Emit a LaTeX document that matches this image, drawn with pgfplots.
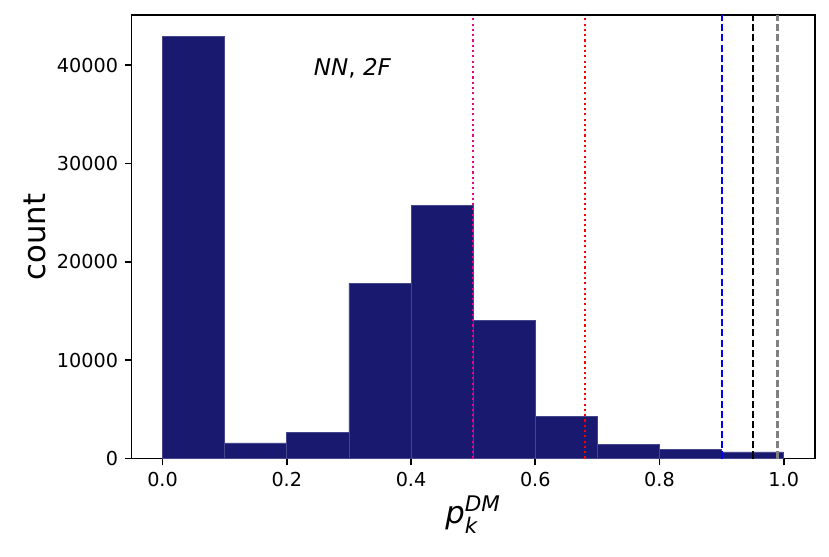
\documentclass[border=0pt]{standalone}
\usepackage{amsmath}
\usepackage{fontspec}
\setmainfont{DejaVu Sans}
\usepackage{pgfplots}
\pgfplotsset{compat=1.18}

\definecolor{midnight}{RGB}{25,25,112}
\definecolor{baredge}{RGB}{70,70,140}

\begin{document}
\begin{tikzpicture}
\begin{axis}[
    scale only axis,
    width=356pt, height=231pt,
    xmin=-0.05, xmax=1.05,
    ymin=0, ymax=45090,
    axis line style={line width=0.8pt},
    tick align=outside,
    xtick pos=left, ytick pos=left,
    major tick length=3.5pt,
    every tick/.style={black, line width=0.8pt},
    xtick={0,0.2,0.4,0.6,0.8,1.0},
    ytick={0,10000,20000,30000,40000},
    x tick label as interval=false,
    scaled y ticks=false,
    /pgf/number format/assume math mode=true,
    xticklabel style={/pgf/number format/.cd, fixed, fixed zerofill, precision=1},
    yticklabel style={/pgf/number format/.cd, fixed, set thousands separator={}},
    tick label style={font=\fontsize{10}{12}\selectfont},
    xlabel={$\textit{p}_{\textit{k}}^{\textit{DM}}$},
    ylabel={count},
    label style={font=\fontsize{16}{19}\selectfont},
    xlabel style={yshift=2pt},
    ylabel style={yshift=-1pt},
]
\addplot[ybar interval, fill=midnight, draw=baredge, line width=0.3pt] coordinates {
    (0.0, 42950)
    (0.1, 1600)
    (0.2, 2650)
    (0.3, 17850)
    (0.4, 25750)
    (0.5, 14050)
    (0.6, 4300)
    (0.7, 1460)
    (0.8, 950)
    (0.9, 680)
    (1.0, 680)
};
\addplot[magenta, line width=1.1pt, dash pattern=on 1.1pt off 1.65pt] coordinates {(0.5,0) (0.5,45090)};
\addplot[red, line width=1.1pt, dash pattern=on 1.1pt off 1.65pt] coordinates {(0.68,0) (0.68,45090)};
\addplot[blue, line width=1.1pt, dash pattern=on 3.7pt off 1.6pt] coordinates {(0.9,0) (0.9,45090)};
\addplot[black, line width=1.1pt, dash pattern=on 3.7pt off 1.6pt] coordinates {(0.95,0) (0.95,45090)};
\addplot[gray, line width=1.1pt, dash pattern=on 3.7pt off 1.6pt] coordinates {(0.99,0) (0.99,45090)};
\node[font=\fontsize{12}{14}\selectfont] at (axis cs:0.306,39700) {\textit{NN}, \textit{2F}};
\end{axis}
\path ([shift={(-9pt,-9pt)}]current bounding box.south west)
      ([shift={(7pt,7.5pt)}]current bounding box.north east);
\end{tikzpicture}
\end{document}
